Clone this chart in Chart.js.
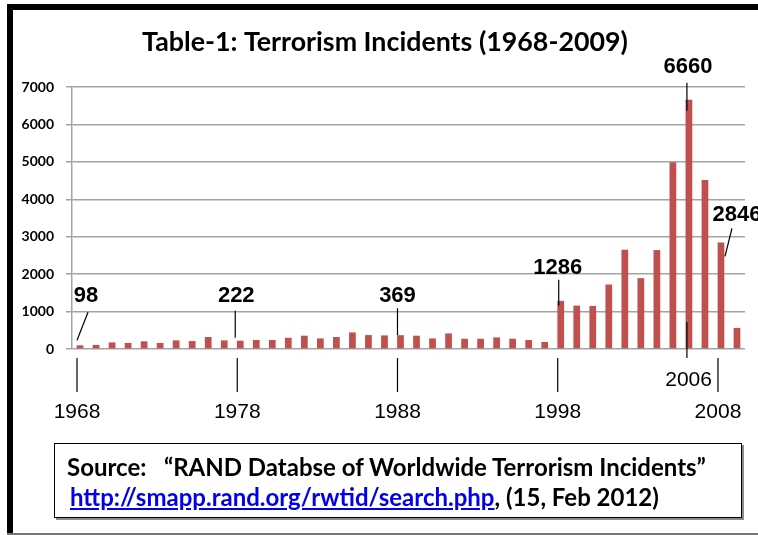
<!DOCTYPE html>
<html>
<head>
<meta charset="utf-8">
<title>Terrorism Incidents (1968-2009)</title>
<script src="https://cdn.jsdelivr.net/npm/chart.js@4.4.1/dist/chart.umd.min.js"></script>
<style>
  html, body { margin: 0; padding: 0; background: #fff; overflow: hidden; }
  #page { position: relative; width: 758px; height: 535px; }
  #chart { position: absolute; left: 0; top: 0; }
  .edge { position: absolute; background: #000; }
  #edgeTop { left: 7px; top: 4px; width: 751px; height: 6px; }
  #edgeLeft { left: 7px; top: 4px; width: 6px; height: 530px; }
  #edgeBottom { left: 7px; top: 533px; width: 751px; height: 2px; background: #777; }
  #source {
    position: absolute; left: 54px; top: 443px; width: 686px; height: 73px;
    border: 1px solid #000; box-shadow: 2px 2px 0 #8c8c8c; background: #fff;
    font-family: Lato, "Open Sans", sans-serif; font-weight: bold; font-size: 24px; color: #000;
    line-height: 28px;
  }
  #source .line { position: absolute; white-space: pre; }
  #src1 { left: 12px; top: 9px; }
  #src2 { left: 15px; top: 39px; }
  #source a { color: #0000ee; text-decoration: underline; }
</style>
</head>
<body>
<div id="page">
  <canvas id="chart" width="758" height="535"></canvas>
  <div class="edge" id="edgeTop"></div>
  <div class="edge" id="edgeLeft"></div>
  <div class="edge" id="edgeBottom"></div>
  <div id="source">
    <div class="line" id="src1">Source:   “RAND Databse of Worldwide Terrorism Incidents”</div>
    <div class="line" id="src2"><a href="http://smapp.rand.org/rwtid/search.php">http://smapp.rand.org/rwtid/search.php</a>, (15, Feb 2012)</div>
  </div>
</div>
<script>
const TITLE = "Table-1: Terrorism Incidents (1968-2009)";

const years = [
  1968, 1969, 1970, 1971, 1972, 1973, 1974, 1975, 1976, 1977,
  1978, 1979, 1980, 1981, 1982, 1983, 1984, 1985, 1986, 1987,
  1988, 1989, 1990, 1991, 1992, 1993, 1994, 1995, 1996, 1997,
  1998, 1999, 2000, 2001, 2002, 2003, 2004, 2005, 2006, 2007,
  2008, 2009
];

// incidents per year
const incidents = [
  98, 110, 175, 160, 205, 160, 230, 212, 320, 230,
  222, 240, 240, 300, 355, 283, 320, 443, 372, 363,
  369, 355, 283, 416, 274, 274, 310, 274, 240, 190,
  1286, 1160, 1150, 1723, 2652, 1893, 2643, 4991, 6660, 4518,
  2846, 563
];

const yTicks = [0, 1000, 2000, 3000, 4000, 5000, 6000, 7000];
const axisYears = [1968, 1978, 1988, 1998, 2008];
const labelledYears = [1968, 1978, 1988, 1998, 2006, 2008];

const BAR_COLOR = "#c0504d";
const GRID_COLOR = "#a3a3a3";

// where each value label and its leader line sit, relative to the bar top
const calloutLayout = {
  1968: { dx: 6,  dy: -49, from: [8, -33],  to: [-3, -5] },
  1978: { dx: -4, dy: -45, from: [-5, -30], to: [-5, -3] },
  1988: { dx: -3, dy: -39, from: [-3, -27], to: [-3, 0] },
  1998: { dx: -3, dy: -33, from: [-2, -21], to: [-2, 5] },
  2006: { dx: -1, dy: -33, from: [-2, -17], to: [-2, 11] },
  2008: { dx: 16, dy: -28, from: [11, -14], to: [4, 14] }
};

function line(ctx, x1, y1, x2, y2) {
  ctx.beginPath();
  ctx.moveTo(x1, y1);
  ctx.lineTo(x2, y2);
  ctx.stroke();
}

const overlay = {
  id: "overlay",
  afterDraw(chart) {
    const ctx = chart.ctx;
    const xs = chart.scales.x;
    const ys = chart.scales.y;
    const barX = yr => xs.getPixelForValue(years.indexOf(yr));
    const base = ys.getPixelForValue(0);

    ctx.save();
    ctx.fillStyle = "#000";
    ctx.strokeStyle = "#000";
    ctx.lineWidth = 1.2;
    ctx.textAlign = "center";
    ctx.textBaseline = "middle";

    // title
    ctx.font = "bold 26.8px Lato, 'Open Sans', sans-serif";
    ctx.fillText(TITLE, 385, 42);

    // value callouts
    ctx.font = "bold 22px 'Liberation Sans', Arial, sans-serif";
    labelledYears.forEach(yr => {
      const lay = calloutLayout[yr];
      const cx = barX(yr);
      const top = ys.getPixelForValue(incidents[years.indexOf(yr)]);
      ctx.fillText(String(incidents[years.indexOf(yr)]), cx + lay.dx, top + lay.dy);
      line(ctx, cx + lay.from[0], top + lay.from[1], cx + lay.to[0], top + lay.to[1]);
    });

    // hand-drawn year axis below the bars
    ctx.font = "21px 'Liberation Sans', Arial, sans-serif";
    axisYears.forEach(yr => {
      const tx = barX(yr) - 3;
      line(ctx, tx, base + 9, tx, base + 43);
      ctx.fillText(String(yr), tx, base + 63);
    });

    // 2006 marker runs up through its bar
    const x06 = barX(2006) - 2;
    line(ctx, x06, base - 27, x06, base + 9);
    ctx.textAlign = "right";
    ctx.fillText("2006", x06 + 25, base + 31);

    ctx.restore();
  }
};

new Chart(document.getElementById("chart"), {
  type: "bar",
  data: {
    labels: years.map(String),
    datasets: [{
      data: incidents,
      backgroundColor: BAR_COLOR,
      barPercentage: 0.42,
      categoryPercentage: 1
    }]
  },
  options: {
    responsive: false,
    animation: false,
    devicePixelRatio: 1,
    layout: { padding: { left: 10, top: 87, right: 13, bottom: 186 } },
    plugins: {
      legend: { display: false },
      tooltip: { enabled: false }
    },
    scales: {
      x: { display: false },
      y: {
        min: 0,
        max: 7000,
        afterFit: scale => { scale.width = 62; },
        afterBuildTicks: scale => { scale.ticks = yTicks.map(v => ({ value: v })); },
        ticks: {
          color: "#000",
          padding: 12,
          callback: v => String(v),
          font: { family: "Lato, 'Open Sans', sans-serif", weight: "bold", size: 14 }
        },
        grid: { color: GRID_COLOR, tickLength: 6, lineWidth: 1.5 },
        border: { color: GRID_COLOR, width: 1.5 }
      }
    }
  },
  plugins: [overlay]
});
</script>
</body>
</html>
